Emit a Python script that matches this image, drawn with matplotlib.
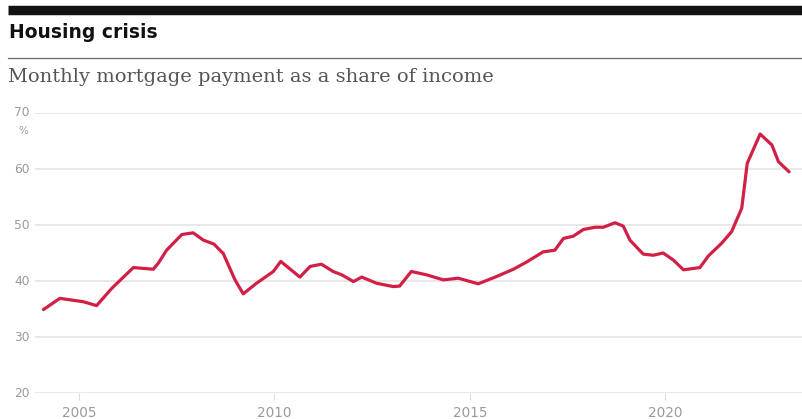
import matplotlib
matplotlib.use("Agg")
import matplotlib.pyplot as plt
from matplotlib.lines import Line2D

# Data (decimal year, % of income)
years = [2004.09, 2004.51, 2005.11, 2005.45, 2005.84, 2006.39, 2006.90, 2007.03,
         2007.24, 2007.63, 2007.92, 2008.18, 2008.45, 2008.69, 2008.99, 2009.20,
         2009.54, 2009.97, 2010.16, 2010.65, 2010.91, 2011.20, 2011.50, 2011.72,
         2012.02, 2012.23, 2012.61, 2013.04, 2013.20, 2013.50, 2013.89, 2014.32,
         2014.70, 2015.21, 2015.68, 2016.11, 2016.45, 2016.87, 2017.17, 2017.39,
         2017.64, 2017.90, 2018.20, 2018.41, 2018.71, 2018.92, 2019.09, 2019.43,
         2019.69, 2019.94, 2020.20, 2020.46, 2020.88, 2021.10, 2021.43, 2021.69,
         2021.95, 2022.09, 2022.42, 2022.72, 2022.89, 2023.16]
share = [34.9, 36.9, 36.3, 35.6, 38.7, 42.4, 42.1, 43.2,
         45.5, 48.3, 48.6, 47.3, 46.6, 44.9, 40.2, 37.7,
         39.6, 41.7, 43.5, 40.7, 42.6, 43.0, 41.7, 41.1,
         39.9, 40.7, 39.6, 39.0, 39.1, 41.7, 41.1, 40.2,
         40.5, 39.5, 40.8, 42.1, 43.4, 45.2, 45.5, 47.6,
         48.0, 49.2, 49.6, 49.6, 50.4, 49.8, 47.3, 44.8,
         44.6, 45.0, 43.75, 42.0, 42.4, 44.5, 46.7, 48.8,
         53.0, 61.0, 66.25, 64.3, 61.3, 59.5]

y_ticks = [20, 30, 40, 50, 60, 70]
x_ticks = [2005, 2010, 2015, 2020]

title = "Housing crisis"
subtitle = "Monthly mortgage payment as a share of income"

W, H = 803, 419
fig = plt.figure(figsize=(W / 100, H / 100), dpi=100)

def fx(px):
    return px / W

def fy(py):
    return 1 - py / H

# Top black rule, title, thin rule, subtitle
fig.add_artist(Line2D([fx(8), 1], [fy(10.5), fy(10.5)], color="#111111", lw=6.8,
                      solid_capstyle="butt"))
fig.text(fx(9), fy(33), title, fontsize=13.5, fontweight="bold",
         family="DejaVu Sans", color="#111111", va="center", ha="left")
fig.add_artist(Line2D([fx(8), 1], [fy(58), fy(58)], color="#666666", lw=0.9))
fig.text(fx(8), fy(77), subtitle, fontsize=14.0, family="DejaVu Serif",
         color="#555555", va="center", ha="left")

ax_left, ax_right = 35, 803
ax_top, ax_bot = 113, 393
ax = fig.add_axes([fx(ax_left), fy(ax_bot), fx(ax_right - ax_left), (ax_bot - ax_top) / H])

ax.plot(years, share, color="#d21f45", lw=2.3, solid_joinstyle="round",
        solid_capstyle="round", zorder=3)

x0 = 2005 + (ax_left - 79) / 39.1
x1 = 2005 + (ax_right - 79) / 39.1
ax.set_xlim(x0, x1)
ax.set_ylim(20, 70)

for s in ax.spines.values():
    s.set_visible(False)
for v in y_ticks:
    ax.axhline(v, color="#e8e8e8", lw=1.4, zorder=1)

ax.set_yticks(y_ticks)
ax.set_yticklabels([])
ax.tick_params(axis="y", length=0)
for v in y_ticks:
    fig.text(fx(22), fy(ax_bot - (v - 20) * (ax_bot - ax_top) / 50), str(v),
             ha="center", va="center", fontsize=8.8, color="#9a9a9a")
fig.text(fx(23), fy(131), "%", ha="center", va="center", fontsize=7.5, color="#9a9a9a")

ax.set_xticks(x_ticks)
ax.set_xticklabels([str(t) for t in x_ticks], fontsize=9.8, color="#9a9a9a")
ax.tick_params(axis="x", length=5, width=0.8, color="#dddddd", pad=4)

fig.savefig("out.png", dpi=100)
